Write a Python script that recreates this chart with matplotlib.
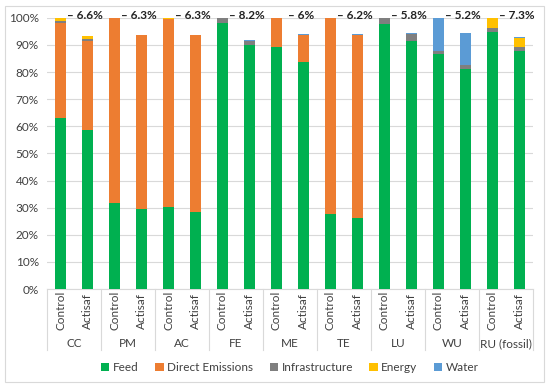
import numpy as np
import matplotlib
matplotlib.use("Agg")
import matplotlib.pyplot as plt
from matplotlib.patches import Rectangle

plt.rcParams['font.family'] = ['Lato', 'DejaVu Sans']

groups = ['CC', 'PM', 'AC', 'FE', 'ME', 'TE', 'LU', 'WU', 'RU (fossil)']
treatments = ['Control', 'Actisaf']
reductions = ['– 6.6%', '– 6.3%', '– 6.3%', '– 8.2%', '– 6%', '– 6.2%', '– 5.8%', '– 5.2%', '– 7.3%']

# one value per bar (Control, Actisaf for each group), in percent
feed = [63.2, 58.7, 31.6, 29.5, 30.4, 28.3, 98.0, 90.0, 89.1, 83.9,
        27.8, 26.3, 97.7, 91.6, 86.6, 81.2, 94.9, 87.8]
direct = [34.8, 32.6, 68.2, 64.0, 69.3, 65.2, 0, 0, 10.8, 9.8,
          72.1, 67.4, 0, 0, 0, 0, 0, 0]
infra = [0.9, 1.0, 0, 0, 0, 0, 1.9, 1.3, 0, 0,
         0, 0, 2.3, 2.4, 1.3, 1.3, 1.4, 1.4]
energy = [1.0, 1.0, 0, 0, 0.3, 0, 0, 0, 0, 0,
          0, 0, 0, 0, 0, 0, 3.5, 3.3]
water = [0.1, 0.1, 0.2, 0.2, 0, 0.2, 0.1, 0.5, 0.1, 0.4,
         0.1, 0.2, 0, 0.3, 12.1, 11.8, 0.2, 0.3]

series = [('Feed', feed, '#00B050'),
          ('Direct Emissions', direct, '#ED7D31'),
          ('Infrastructure', infra, '#7F7F7F'),
          ('Energy', energy, '#FFC000'),
          ('Water', water, '#5B9BD5')]

fig = plt.figure(figsize=(5.5, 3.88), dpi=100)
ax = fig.add_axes([0.0855, 0.255, 0.8835, 0.699])

x = np.arange(len(feed))
bottom = np.zeros(len(feed))
for name, vals, col in series:
    ax.bar(x, vals, 0.41, bottom=bottom, color=col, label=name, zorder=3)
    bottom += np.array(vals)

ax.set_xlim(-0.5, len(feed) - 0.5)
ax.set_ylim(0, 100)
ax.set_yticks(np.arange(0, 101, 10))
ax.set_yticklabels([f'{v}%' for v in range(0, 101, 10)], fontsize=8.5, color='#404040')
ax.yaxis.grid(True, color='#D9D9D9', linewidth=0.8, zorder=0)
ax.tick_params(axis='y', length=0, pad=6)
for s in ['top', 'right', 'left']:
    ax.spines[s].set_visible(False)
ax.spines['bottom'].set_color('#D9D9D9')
ax.set_xticks([])

# sub labels, group labels and separators below the axis
trans = ax.get_xaxis_transform()
for i in range(len(feed)):
    ax.text(i, -0.08, treatments[i % 2], transform=trans, rotation=90,
            ha='center', va='center', fontsize=8.5, color='#404040')
for g, name in enumerate(groups):
    ax.text(2 * g + 0.5, -0.2, name, transform=trans, ha='center', va='center',
            fontsize=8.5, color='#404040')
    ax.text(2 * g + 0.9, 1.01, reductions[g], transform=trans, ha='center', va='center',
            fontsize=8.5, fontweight='bold', color='#222222', clip_on=False)
for b in range(len(groups) + 1):
    ax.plot([2 * b - 0.5, 2 * b - 0.5], [0, -0.225], transform=trans,
            color='#D9D9D9', linewidth=0.8, clip_on=False)

ax.legend(loc='upper center', bbox_to_anchor=(0.5, -0.23), ncol=5, frameon=False,
          fontsize=8.5, handlelength=0.7, handleheight=0.7, handletextpad=0.3,
          columnspacing=1.4, labelcolor='#404040')

fig.patches.append(Rectangle((5 / 550, 6 / 388), 539 / 550, 376 / 388,
                             transform=fig.transFigure, fill=False,
                             edgecolor='#D9D9D9', linewidth=0.8))

fig.savefig('out.png', dpi=100)
